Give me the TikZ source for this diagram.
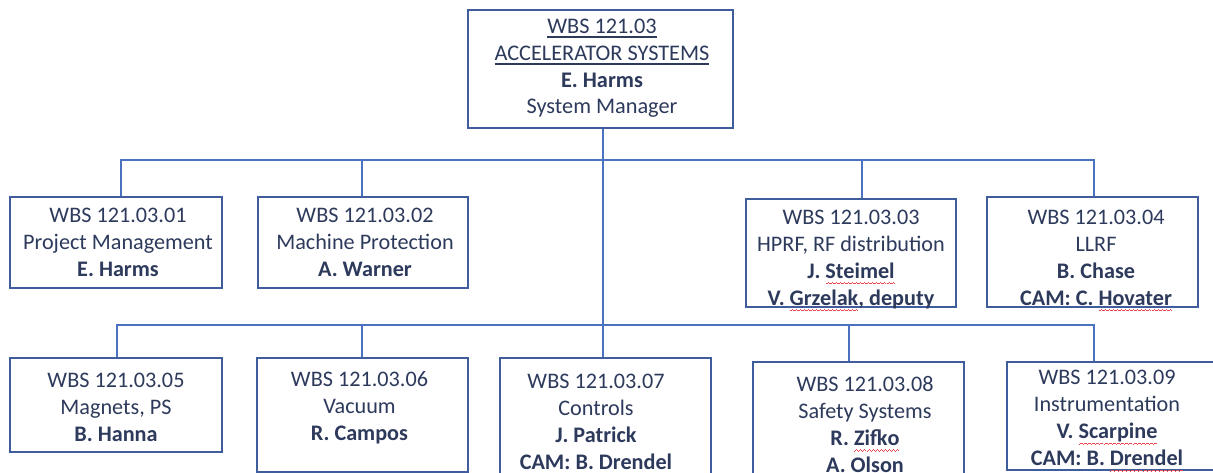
\documentclass[tikz,border=0pt]{standalone}
\usepackage{fontspec}
\setmainfont{Carlito}
\definecolor{txt}{HTML}{2D3A5C}
\definecolor{boxc}{HTML}{3F5C9C}
\definecolor{linec}{HTML}{4A72C0}
\definecolor{wavec}{HTML}{E5484D}
\newcommand\wavepiece{\hbox{\rule[-5.8pt]{1pt}{0.7pt}\rule[-5.1pt]{1pt}{0.7pt}\rule[-4.4pt]{1pt}{0.7pt}\rule[-5.1pt]{1pt}{0.7pt}}}
\newcommand\redwave[1]{\setbox0\hbox{#1}\leavevmode\rlap{\hbox to \wd0{\color{wavec}\xleaders\wavepiece\hfill}}\box0}
\newcommand\thickul[1]{\setbox0\hbox{#1}\leavevmode\rlap{\rule[-4.5pt]{\wd0}{1.8pt}}\box0}
\begin{document}
\begin{tikzpicture}[x=1pt,y=-1pt,
  box/.style={draw=boxc, line width=1.3pt, inner sep=0pt},
  txtnode/.style={text=txt, align=center, inner sep=0pt, font=\fontsize{22.2}{27}\selectfont},
  conn/.style={draw=linec, line width=1.1pt}]
\fill[white] (0,0) rectangle (1213,473);
\useasboundingbox (0,0) rectangle (1213,473);
\begin{scope}
\clip (0,0) rectangle (1213,473);
% boxes
\node[box, minimum width=265, minimum height=118] (top) at (600.5,69) {};
\node[box, minimum width=212, minimum height=91]  (b01) at (116,242.5) {};
\node[box, minimum width=210, minimum height=91]  (b02) at (363,242.5) {};
\node[box, minimum width=210, minimum height=108] (b03) at (851,253) {};
\node[box, minimum width=211, minimum height=110] (b04) at (1092.5,252) {};
\node[box, minimum width=212, minimum height=94]  (b05) at (116,405) {};
\node[box, minimum width=211, minimum height=114] (b06) at (362.5,415) {};
\node[box, minimum width=211, minimum height=128] (b07) at (605.5,422) {};
\node[box, minimum width=211, minimum height=120] (b08) at (858.5,422) {};
\node[box, minimum width=210, minimum height=108] (b09) at (1112,416) {};
% texts
\node[txtnode, font=\fontsize{22.3}{26.7}\selectfont] (ttop) at (602,68.5)
  {\thickul{WBS 121.03}\\ \thickul{ACCELERATOR SYSTEMS}\\ \textbf{E. Harms}\\ System Manager};
\node[txtnode] (t01) at (118,242.5) {WBS 121.03.01\\ Project Management\\ \textbf{E. Harms}};
\node[txtnode] (t02) at (365,242.5) {WBS 121.03.02\\ Machine Protection\\ \textbf{A. Warner}};
\node[txtnode] (t03) at (851,260.5)
  {WBS 121.03.03\\ HPRF, RF distribution\\ \textbf{J. \redwave{Steimel}}\\ \textbf{V. \redwave{Grzelak}, deputy}};
\node[txtnode] (t04) at (1096,260.5)
  {WBS 121.03.04\\ LLRF\\ \textbf{B. Chase}\\ \textbf{CAM: C. \redwave{Hovater}}};
\node[txtnode] (t05) at (116,407.5) {WBS 121.03.05\\ Magnets, PS\\ \textbf{B. Hanna}};
\node[txtnode] (t06) at (359.5,407.5) {WBS 121.03.06\\ Vacuum\\ \textbf{R. Campos}};
\node[txtnode] (t07) at (596,424.5)
  {WBS 121.03.07\\ Controls\\ \textbf{J. Patrick}\\ \textbf{CAM: B. \redwave{Drendel}}};
\node[txtnode] (t08) at (865,424.5)
  {WBS 121.03.08\\ Safety Systems\\ \textbf{R. \redwave{Zifko}}\\ \textbf{A. Olson}};
\node[txtnode] (t09) at (1107,421)
  {WBS 121.03.09\\ Instrumentation\\ \textbf{V. \redwave{Scarpine}}\\ \textbf{CAM: B. \redwave{Drendel}}};
% bus coordinates
\coordinate (trunk) at (603,0);
\coordinate (d01) at (121,160);
\coordinate (d02) at (362,160);
\coordinate (d03) at (862,160);
\coordinate (d04) at (1094,160);
\coordinate (d05) at (117,325);
\coordinate (d06) at (362,325);
\coordinate (d08) at (849,325);
\coordinate (d09) at (1094,325);
% connectors
\draw[conn] (trunk |- top.south) -- (trunk |- b07.north);
\draw[conn] (d01 |- b01.north) -- (d01) -- (d04) -- (d04 |- b04.north);
\draw[conn] (d02) -- (d02 |- b02.north);
\draw[conn] (d03) -- (d03 |- b03.north);
\draw[conn] (d05 |- b05.north) -- (d05) -- (d09) -- (d09 |- b09.north);
\draw[conn] (d06) -- (d06 |- b06.north);
\draw[conn] (d08) -- (d08 |- b08.north);
\end{scope}
\end{tikzpicture}
\end{document}
